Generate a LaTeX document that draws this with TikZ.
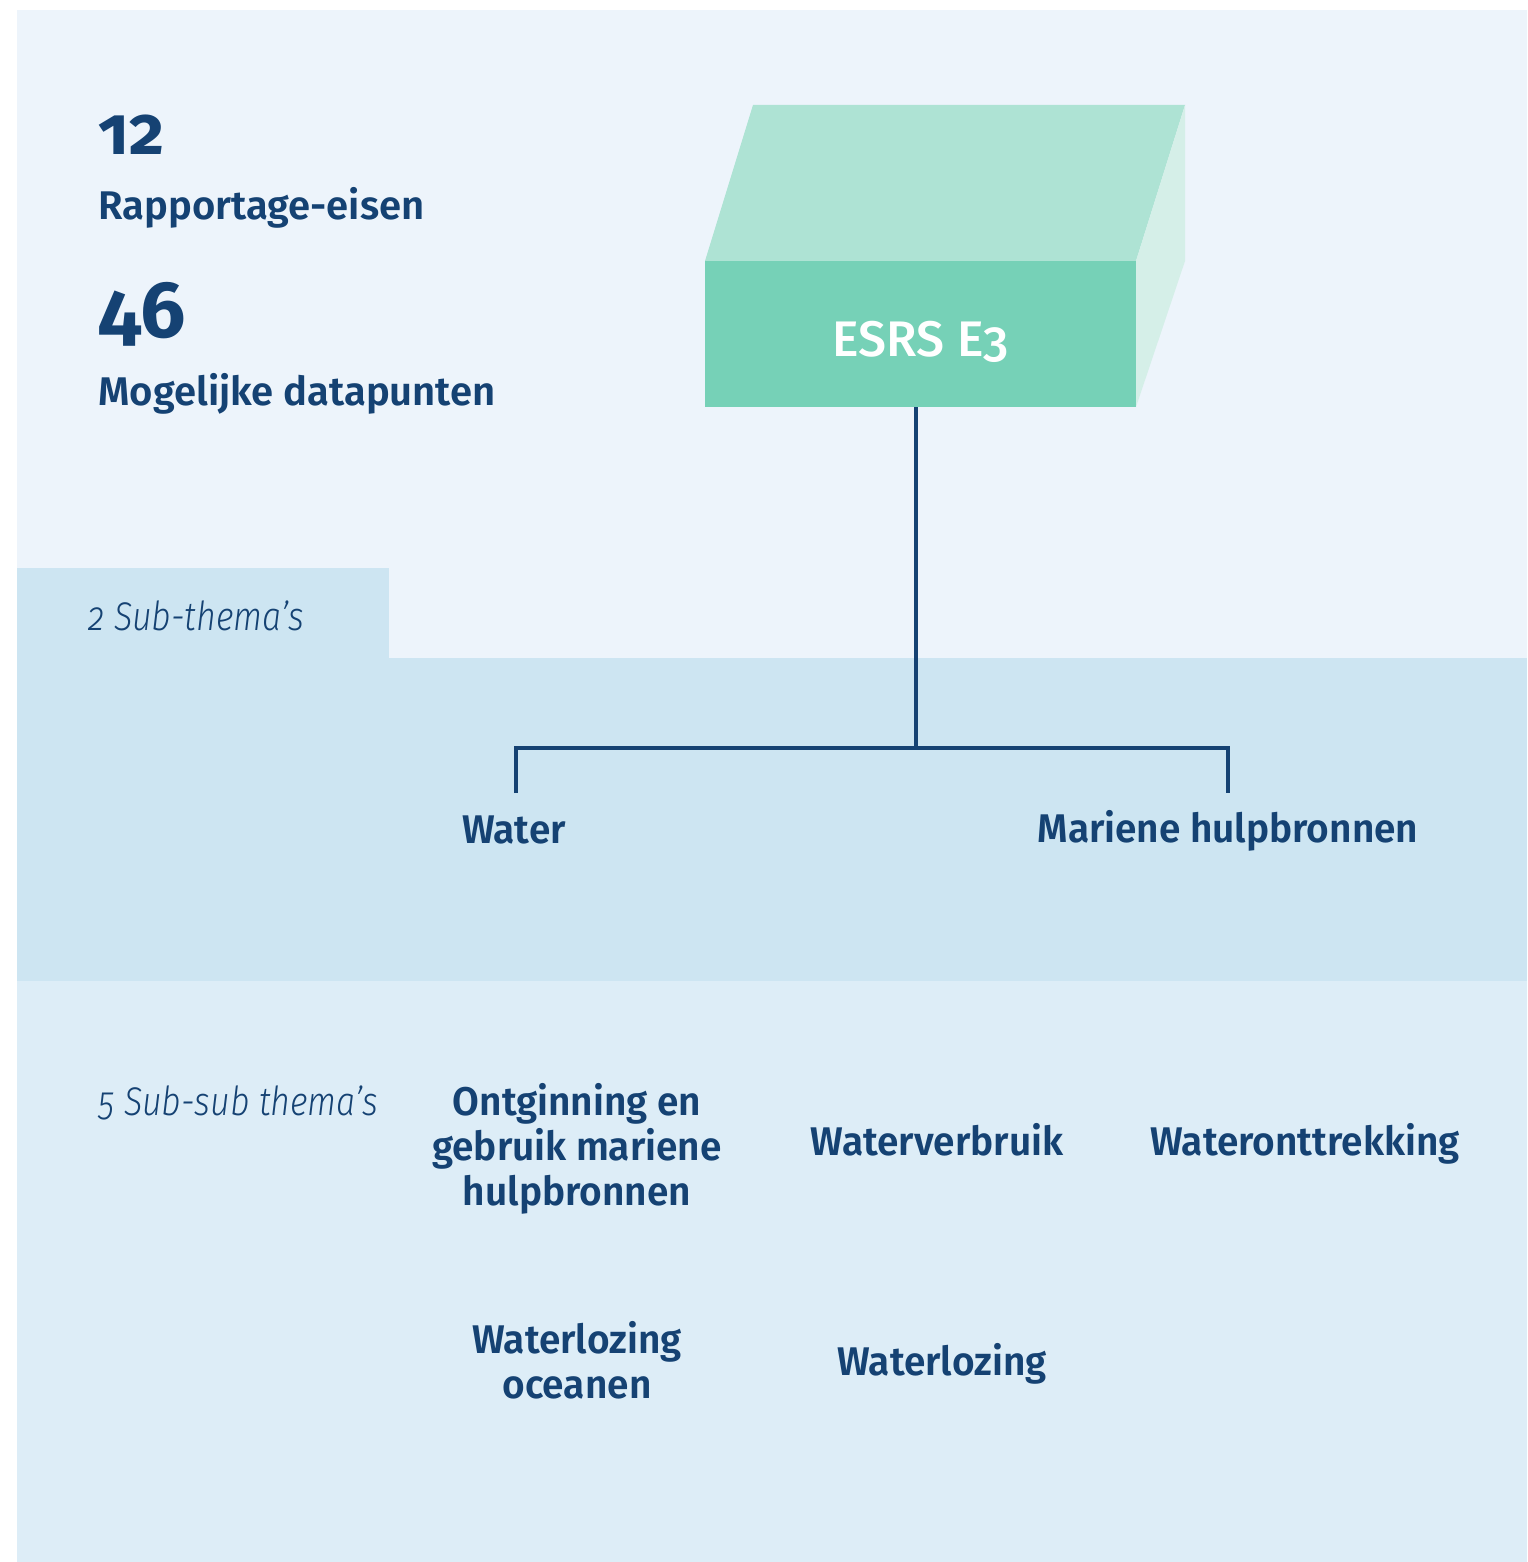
\documentclass[tikz,border=0pt]{standalone}
\usepackage{fontspec}
\setmainfont{Fira Sans}[Numbers=OldStyle]
\newfontfamily\semib{Fira Sans SemiBold}[Numbers=OldStyle]
\newfontfamily\semibn{Fira Sans SemiBold}[Numbers=OldStyle, FakeStretch=0.97]
\newfontfamily\medf{Fira Sans Medium}[RawFeature=+onum]
\newfontfamily\boldnum{Fira Sans Bold}[RawFeature=+onum]
\newfontfamily\lightit{Fira Sans Light Italic}[Numbers=OldStyle, FakeStretch=0.85]

% short figures for the first key number
\newcommand{\shortfig}[1]{{\fontsize{34}{38}\selectfont #1}}

\definecolor{navy}{HTML}{154273}
\definecolor{panelTop}{HTML}{EDF4FB}
\definecolor{panelMid}{HTML}{CDE5F2}
\definecolor{panelLow}{HTML}{DDEDF7}
\definecolor{boxFront}{HTML}{76D1B7}
\definecolor{boxTop}{HTML}{AEE3D4}
\definecolor{boxSide}{HTML}{D5EFE8}

\tikzset{
  lbl/.style={font=\semibn\fontsize{20}{22.5}\selectfont, text=navy, inner sep=0pt, align=center, anchor=base},
  stat/.style={font=\semib\fontsize{20}{22.5}\selectfont, text=navy, inner sep=0pt, anchor=base west},
  bignum/.style={font=\boldnum\fontsize{40}{44}\selectfont, text=navy, inner sep=0pt, anchor=base west},
  note/.style={font=\lightit\fontsize{20}{22}\selectfont, text=navy, inner sep=0pt, anchor=base west},
  tree/.style={draw=navy, line width=2pt},
}

\begin{document}
\begin{tikzpicture}[x=0.5pt, y=-0.5pt]
  \useasboundingbox (0,0) rectangle (1527,1562);

  % background panels
  \fill[panelTop] (17,10) rectangle (1527,658);
  \fill[panelMid] (17,568) rectangle (389,658);
  \fill[panelMid] (17,658) rectangle (1527,981);
  \fill[panelLow] (17,981) rectangle (1527,1562);

  % the standard as a block
  \fill[boxTop] (705,261) -- (753,105) -- (1185,105) -- (1136,261) -- cycle;
  \fill[boxSide] (1136,261) -- (1185,105) -- (1185,261) -- (1136,407) -- cycle;
  \node[fill=boxFront, minimum width=215.5pt, minimum height=73pt, inner sep=0pt,
        text height=22pt, text depth=0pt, text=white,
        font=\medf\fontsize{25}{27}\selectfont] (esrs) at (920.5,334) {ESRS E3};

  % key figures
  \node[bignum] (n12) at (98,155) {\shortfig{12}};
  \node[stat] (req) at (98,220) {Rapportage-eisen};
  \node[bignum] (n46) at (98,337) {46};
  \node[stat] (dp) at (98,405) {Mogelijke datapunten};

  % level captions
  \node[note] (lev2) at (88,630) {2 Sub-thema’s};
  \node[note] (lev3) at (98,1115) {5 Sub-sub thema’s};

  % sub-themes
  \node[lbl] (water) at (514,843) {Water};
  \node[lbl] (marine) at (1228,842) {Mariene hulpbronnen};

  % sub-sub-themes (multi-line labels sit on the baseline of their last line)
  \node[lbl] (ontg) at (577,1205) {Ontginning en\\gebruik mariene\\hulpbronnen};
  \node[lbl] (verbr) at (937,1155) {Waterverbruik};
  \node[lbl] (onttr) at (1305,1155) {Wateronttrekking};
  \node[lbl] (lozoc) at (577,1398) {Waterlozing\\oceanen};
  \node[lbl] (loz) at (942,1375) {Waterlozing};

  % tree connector
  \coordinate (j) at (916,748);
  \path (water.base) ++(2,-50) coordinate (wl);
  \path (marine.base) ++(0,-49) coordinate (mr);
  \draw[tree] (esrs.south -| j) -- (j);
  \draw[tree] (wl) -- (wl |- j) -- (mr |- j) -- (mr);
\end{tikzpicture}
\end{document}
